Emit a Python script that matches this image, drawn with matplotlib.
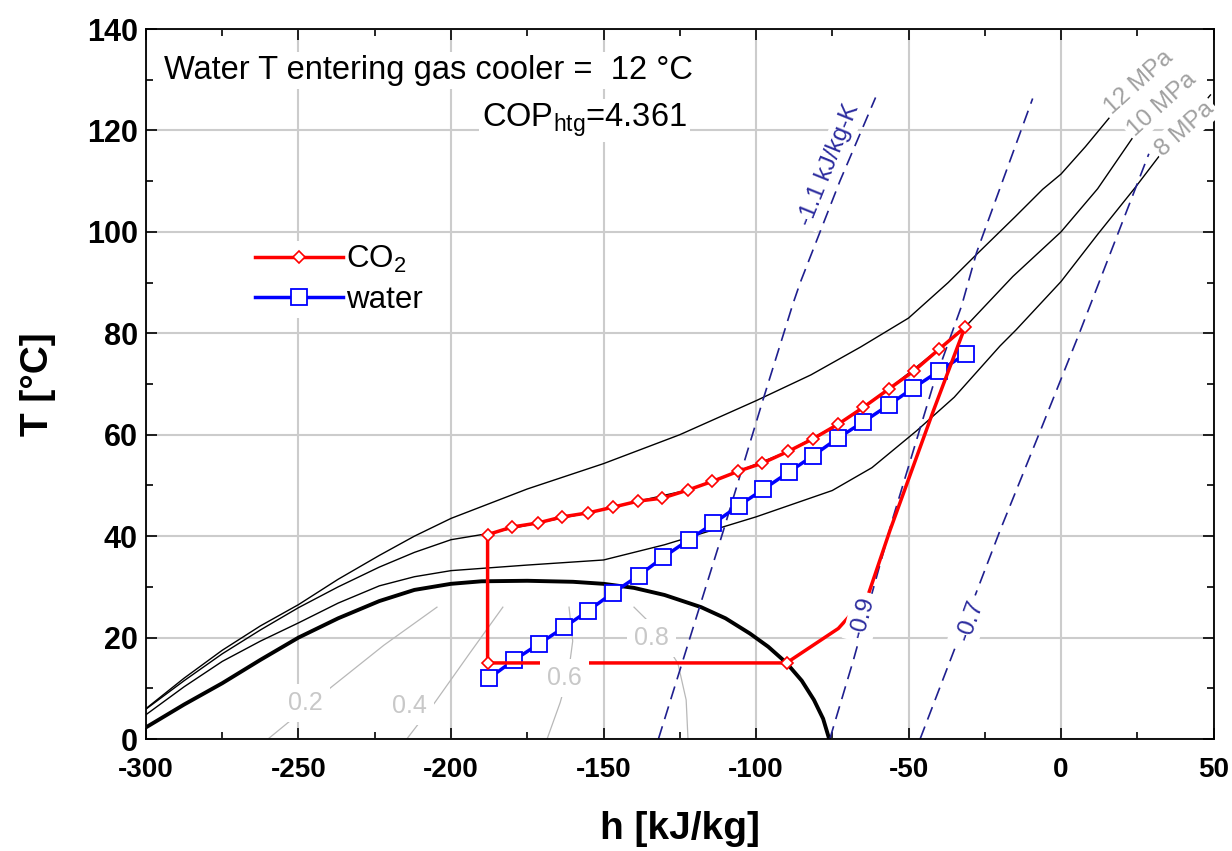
import matplotlib
matplotlib.use("Agg")
import matplotlib.pyplot as plt
from matplotlib.ticker import MultipleLocator

plt.rcParams['font.family'] = ['Liberation Sans', 'DejaVu Sans']
plt.rcParams['mathtext.fontset'] = 'custom'
plt.rcParams['mathtext.rm'] = 'Liberation Sans'
plt.rcParams['mathtext.it'] = 'Liberation Sans'
plt.rcParams['axes.unicode_minus'] = False

# saturation dome of CO2
dome_h = [-300, -287.5, -275, -262.5, -250, -237, -223.5, -212, -200, -190, -175, -160,
          -150, -140, -130, -118, -110, -102, -96, -90, -85, -81, -78, -76]
dome_T = [2.3, 6.8, 11, 15.6, 20, 23.8, 27.2, 29.4, 30.6, 31.1, 31.2, 31,
          30.6, 29.8, 28.4, 26, 23.8, 20.8, 18.2, 15, 11.5, 7.7, 4, 0]

# isobars
p12_h = [-300, -287.5, -275, -262.5, -250, -237, -223.5, -212, -200, -175, -150, -125,
         -100, -82, -65.7, -50, -37, -28.8, -15, -6, 0, 8, 15.7]
p12_T = [6, 12, 17.5, 22.3, 26.5, 31.5, 36.2, 40, 43.5, 49.3, 54.3, 60,
         66.7, 71.8, 77.3, 83, 90, 94.9, 103, 108.4, 111.4, 116.8, 122.4]
p10_h = [-300, -287.5, -275, -262.5, -250, -237, -223.5, -212, -200, -188, -171.5, -155,
         -138.7, -122.3, -105.8, -89.5, -73, -56.5, -40, -31.5, -15.8, 0, 12, 23.3]
p10_T = [5.9, 11.5, 16.8, 21.5, 25.9, 30, 33.9, 36.8, 39.3, 40.5, 42.6, 44.6,
         46.9, 49.1, 52.8, 56.7, 62.1, 69.0, 76.9, 81.2, 91.2, 100, 108.5, 118.4]
p8_h = [-300, -287.5, -275, -262.5, -250, -237, -223.5, -212, -200, -175, -150, -130,
        -118, -100, -75, -62, -47.3, -35, -20, -14.7, 0, 12, 24.4, 32, 49]
p8_T = [4.8, 10.3, 15.3, 19.3, 22.9, 26.8, 30.2, 32, 33.2, 34.3, 35.3, 38.3,
        40.5, 43.8, 49, 53.5, 60.8, 67.4, 77.5, 80.7, 90.2, 99.5, 108.8, 114.8, 127]

# quality lines
q02_h = [-260, -239.3, -222, -204.6]
q02_T = [0, 10.2, 18.5, 26]
q04_h = [-214.5, -205.3, -194, -183]
q04_T = [0, 7.2, 16.8, 26]
q06_h = [-168.5, -164.2, -161.5, -160.1, -161.3]
q06_T = [0, 7.2, 13, 19.3, 26]
q08_h = [-122.3, -122.9, -125.6, -132.6, -140]
q08_T = [0, 7.7, 14.9, 21.6, 26]

# isentropes
s11_h = [-132, -111, -97.8, -87.9, -85.5, -72.5, -60.8]
s11_T = [0, 40.5, 66.7, 85.8, 90, 110, 126.5]
s09_h = [-75.8, -68.1, -55, -41.8, -32.6, -27.7, -9.3]
s09_T = [0, 15.5, 43.8, 70, 85.4, 95.9, 126.3]
s07_h = [-46.2, -20, -6.5, 6, 28.8]
s07_T = [0, 41.1, 61.2, 80, 115.4]

# CO2 cycle: compressor, gas cooler, expansion, evaporator
comp_h = [-90, -73, -63.3, -56.1, -41.8]
comp_T = [15, 21.8, 28.3, 41.1, 64.8]
gc_h = [-31.5, -39.9, -48.2, -56.5, -64.8, -73.0, -81.3, -89.5, -97.9, -105.8,
        -114.3, -122.3, -130.7, -138.7, -147.0, -155.0, -163.6, -171.5, -180.0, -188.0]
gc_T = [81.2, 76.9, 72.6, 69.0, 65.4, 62.1, 59.2, 56.7, 54.4, 52.8,
        50.8, 49.1, 47.5, 46.9, 45.7, 44.6, 43.8, 42.6, 41.8, 40.3]
evap_h = [-188, -90]
evap_T = [15, 15]

# water in gas cooler
w_h = [-187.5, -179.5, -171.3, -163, -155, -147, -138.5, -130.5, -122, -114,
       -105.7, -97.7, -89.3, -81.2, -73, -64.9, -56.4, -48.5, -39.9, -31]
w_T = [12, 15.5, 18.7, 22.0, 25.3, 28.8, 32.2, 35.8, 39.3, 42.5,
       46.0, 49.2, 52.6, 55.9, 59.4, 62.5, 65.9, 69.2, 72.6, 76.0]

fig = plt.figure(figsize=(12.32, 8.51), dpi=100)
ax = fig.add_axes([0.1185, 0.1316, 0.8665, 0.8343])

ax.set_xlim(-300, 50)
ax.set_ylim(0, 140)
ax.set_axisbelow(True)
ax.grid(True, color='#cccccc', lw=1.5, zorder=0)

gray_lbl = dict(facecolor='white', edgecolor='none', pad=2)

# quality lines
for qh, qT in [(q02_h, q02_T), (q04_h, q04_T), (q06_h, q06_T), (q08_h, q08_T)]:
    ax.plot(qh, qT, color='#b8b8b8', lw=0.9, zorder=1)
for txt, xy in [('0.2', (-247.8, 7.1)), ('0.4', (-213.5, 6.5)),
                ('0.6', (-162.8, 12.0)), ('0.8', (-134.2, 19.9))]:
    ax.text(xy[0], xy[1], txt, color='#c8c8c8', fontsize=18, ha='center', va='center',
            bbox=dict(facecolor='white', edgecolor='none', pad=5), zorder=6)

# isobars and dome
for ph, pT in [(p12_h, p12_T), (p10_h, p10_T), (p8_h, p8_T)]:
    ax.plot(ph, pT, color='black', lw=1.0, zorder=2)
ax.plot(dome_h, dome_T, color='black', lw=2.8, zorder=2)
for txt, xy in [('12 MPa', (25.5, 129.5)), ('10 MPa', (33.0, 125.2)), ('8 MPa', (40.6, 120.3))]:
    ax.text(xy[0], xy[1], txt, color='#a0a0a0', fontsize=17.5, rotation=42,
            ha='center', va='center', bbox=gray_lbl, zorder=3)

# isentropes
for sh, sT in [(s11_h, s11_T), (s09_h, s09_T), (s07_h, s07_T)]:
    ax.plot(sh, sT, color='#1f1f8f', lw=1.2, dashes=(8, 4.5), zorder=2.5)
ax.text(-76.1, 113.2, '-1.1 kJ/kg-K', color='#2b2b9e', fontsize=17.5, rotation=68,
        ha='center', va='center', bbox=gray_lbl, zorder=2.2)
ax.text(-65, 24, '-0.9', color='#2b2b9e', fontsize=17.5, rotation=75,
        ha='center', va='center', bbox=dict(facecolor='white', edgecolor='none', pad=3), zorder=6)
ax.text(-29.8, 23.4, '-0.7', color='#2b2b9e', fontsize=17.5, rotation=70,
        ha='center', va='center', bbox=dict(facecolor='white', edgecolor='none', pad=3), zorder=6)

# CO2 cycle
cyc_h = comp_h + gc_h + evap_h
cyc_T = comp_T + gc_T + evap_T
ax.plot(cyc_h, cyc_T, color='#ff0000', lw=2.5, marker='D', ms=6, mfc='white', mec='#ff0000',
        mew=1.2, markevery=list(range(len(comp_h), len(cyc_h))), zorder=5)
ax.plot(w_h, w_T, color='#0000ff', lw=2.5, marker='s', ms=11, mfc='white', mec='#0000ff',
        mew=1.3, zorder=4)

leg_co2 = ax.plot([], [], color='#ff0000', lw=2.5, marker='D', ms=6, mfc='white',
                  mec='#ff0000', mew=1.2)[0]
leg_w = ax.plot([], [], color='#0000ff', lw=2.5, marker='s', ms=11, mfc='white',
                mec='#0000ff', mew=1.3)[0]
leg = ax.legend([leg_co2, leg_w], ['CO$_2$', 'water'], loc='upper left',
                bbox_to_anchor=(-265.2, 98.2), bbox_transform=ax.transData,
                fontsize=22.5, handlelength=2.8, handletextpad=0.1, labelspacing=0.3,
                borderpad=0.1, borderaxespad=0, numpoints=1, frameon=True, fancybox=False)
leg.get_frame().set_edgecolor('none')
leg.get_frame().set_facecolor('white')
leg.get_frame().set_alpha(1)
leg.set_zorder(7)

ax.text(-294, 131.9, 'Water T entering gas cooler =  12 °C', fontsize=23.5, ha='left',
        va='center', bbox=dict(facecolor='white', edgecolor='none', pad=2), zorder=6)
ax.text(-189.7, 122, 'COP$_{\\mathrm{htg}}$=4.361', fontsize=23.5, ha='left',
        va='center', bbox=dict(facecolor='white', edgecolor='none', pad=2), zorder=6)

ax.xaxis.set_major_locator(MultipleLocator(50))
ax.xaxis.set_minor_locator(MultipleLocator(25))
ax.yaxis.set_major_locator(MultipleLocator(20))
ax.yaxis.set_minor_locator(MultipleLocator(10))
ax.tick_params(which='both', direction='in', top=True, right=True, width=1.2)
ax.tick_params(which='major', length=8)
ax.tick_params(which='minor', length=5)
ax.tick_params(axis='x', labelsize=20, pad=13)
ax.tick_params(axis='y', labelsize=22, pad=6)
for lab in ax.get_xticklabels() + ax.get_yticklabels():
    lab.set_fontweight('bold')
for sp in ax.spines.values():
    sp.set_linewidth(1.3)

ax.set_xlabel('h [kJ/kg]', fontsize=28, fontweight='bold', labelpad=20)
ax.set_ylabel('T [°C]', fontsize=28, fontweight='bold', labelpad=22)

plt.savefig('out.png', dpi=100)
